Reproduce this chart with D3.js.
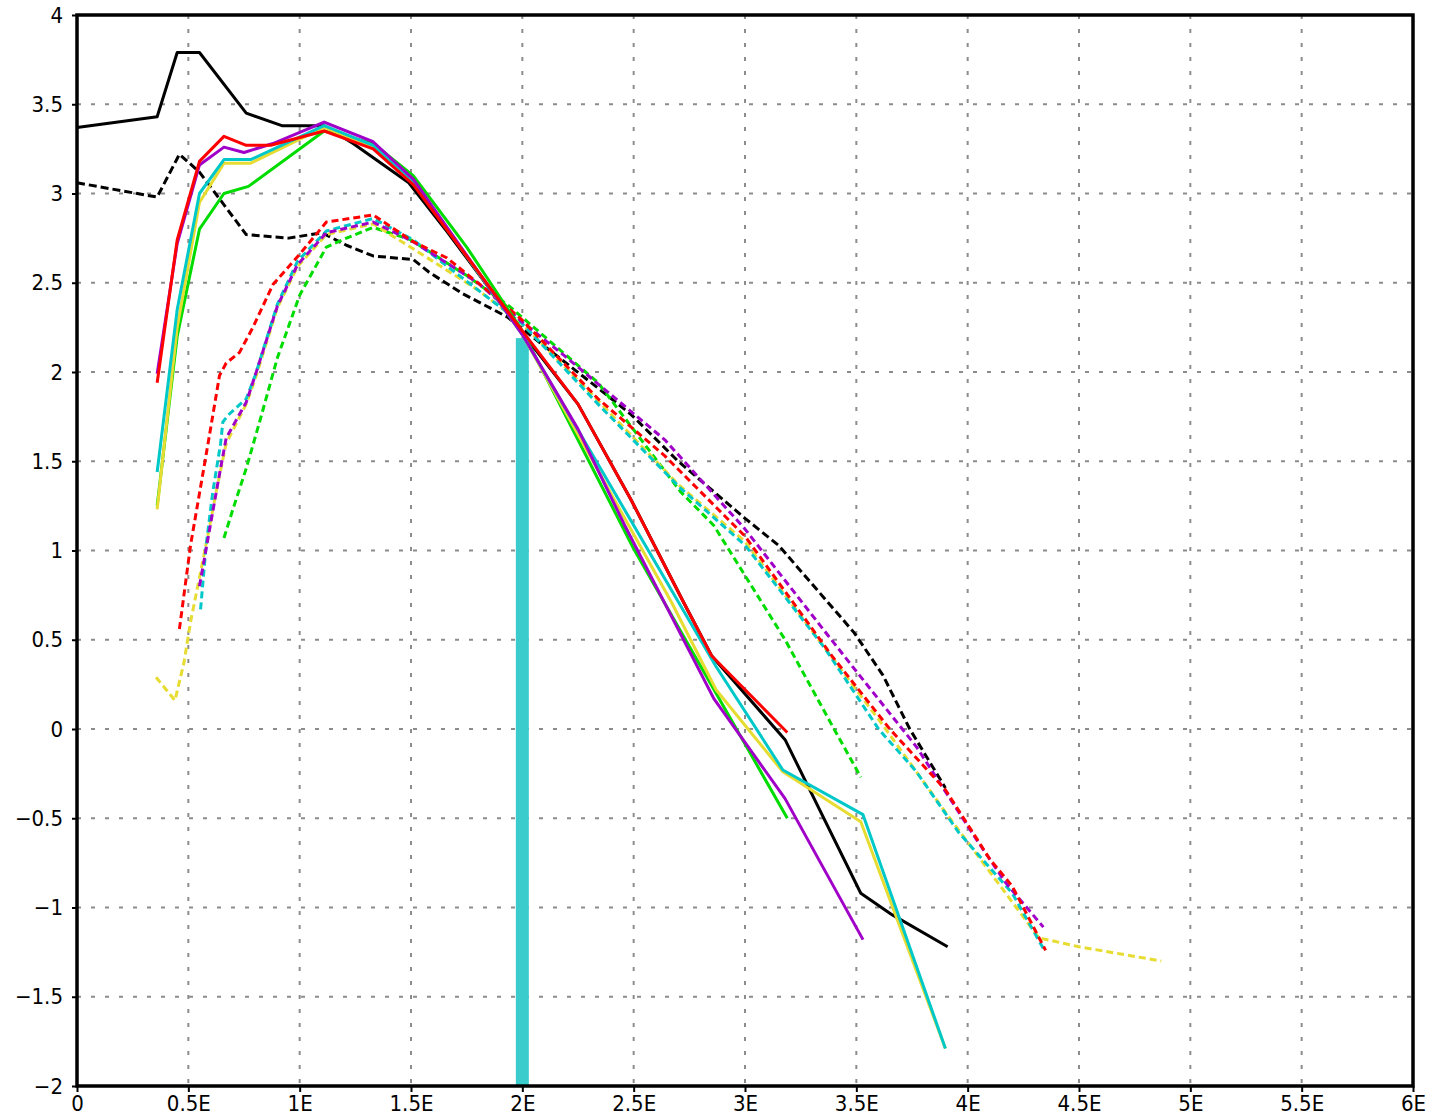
<!DOCTYPE html>
<html>
<head>
<meta charset="utf-8">
<script src="https://cdn.jsdelivr.net/npm/d3@7"></script>
<style>
  body { margin: 0; background: #fff; }
  svg { display: block; }
</style>
</head>
<body>
<svg id="chart" width="1432" height="1120"></svg>
<script>
// Axis ticks and their labels
const xTickValues = [0, 0.5, 1, 1.5, 2, 2.5, 3, 3.5, 4, 4.5, 5, 5.5, 6];
const xTickLabels = ["0", "0.5E", "1E", "1.5E", "2E", "2.5E", "3E", "3.5E", "4E", "4.5E", "5E", "5.5E", "6E"];
const yTickValues = [-2, -1.5, -1, -0.5, 0, 0.5, 1, 1.5, 2, 2.5, 3, 3.5, 4];
const yTickLabels = ["\u22122", "\u22121.5", "\u22121", "\u22120.5", "0", "0.5", "1", "1.5", "2", "2.5", "3", "3.5", "4"];

// Solid curves, [x, y]
const blackSolid = [[0,3.37],[0.36,3.43],[0.45,3.79],[0.55,3.79],[0.76,3.45],[0.92,3.38],[1.11,3.38],[1.24,3.28],[1.49,3.06],[1.66,2.79],[2.0,2.22],[2.25,1.82],[2.49,1.28],[2.72,0.72],[2.85,0.41],[3.18,-0.06],[3.52,-0.92],[3.66,-1.04],[3.91,-1.22]];
const redSolid = [[0.36,1.94],[0.45,2.74],[0.55,3.18],[0.66,3.32],[0.76,3.27],[0.87,3.27],[1.11,3.35],[1.33,3.25],[1.51,3.05],[2.0,2.23],[2.25,1.82],[2.49,1.28],[2.72,0.72],[2.85,0.41],[3.19,-0.02]];
const purpleSolid = [[0.36,1.99],[0.45,2.72],[0.55,3.16],[0.66,3.26],[0.75,3.23],[0.88,3.28],[1.11,3.40],[1.33,3.29],[1.51,3.08],[2.0,2.21],[2.25,1.68],[2.46,1.14],[2.86,0.17],[3.18,-0.39],[3.53,-1.18]];
const cyanSolid = [[0.36,1.44],[0.45,2.35],[0.55,3.0],[0.66,3.19],[0.78,3.19],[1.11,3.38],[1.33,3.27],[1.51,3.07],[2.0,2.21],[2.87,0.35],[3.17,-0.23],[3.53,-0.48],[3.90,-1.79]];
const yellowSolid = [[0.36,1.23],[0.45,2.25],[0.55,2.95],[0.66,3.17],[0.78,3.17],[1.11,3.37],[1.33,3.26],[1.51,3.07],[2.0,2.21],[2.67,0.71],[2.87,0.22],[3.17,-0.24],[3.52,-0.52],[3.90,-1.79]];
const greenSolid = [[0.36,1.25],[0.45,2.2],[0.55,2.80],[0.66,3.0],[0.77,3.04],[1.11,3.35],[1.33,3.28],[1.51,3.10],[1.75,2.70],[2.0,2.23],[2.5,1.01],[3.19,-0.50]];

// Dashed curves, [x, y]
const blackDashed = [[0,3.06],[0.36,2.98],[0.46,3.22],[0.55,3.12],[0.76,2.77],[0.95,2.75],[1.1,2.78],[1.21,2.71],[1.33,2.65],[1.51,2.63],[1.58,2.56],[1.73,2.44],[1.93,2.31],[2.34,1.91],[2.49,1.76],[2.70,1.50],[3.0,1.18],[3.15,1.03],[3.49,0.54],[3.62,0.30],[3.74,0.0],[3.9,-0.33]];
const redDashed = [[0.46,0.56],[0.51,1.03],[0.59,1.61],[0.64,1.98],[0.67,2.05],[0.73,2.11],[0.79,2.25],[0.88,2.49],[1.0,2.66],[1.12,2.84],[1.33,2.88],[1.51,2.73],[1.66,2.64],[1.88,2.42],[2.0,2.29],[2.34,1.85],[2.64,1.53],[3.0,1.08],[3.39,0.41],[3.65,0.0],[3.9,-0.34],[4.1,-0.73],[4.2,-0.88],[4.35,-1.24]];
const purpleDashed = [[0.55,0.80],[0.59,1.08],[0.63,1.36],[0.67,1.63],[0.76,1.83],[0.8,1.98],[0.9,2.37],[0.99,2.6],[1.12,2.78],[1.33,2.84],[1.51,2.73],[1.8,2.5],[2.0,2.28],[2.19,2.09],[2.64,1.62],[3.0,1.12],[3.3,0.64],[3.47,0.37],[3.77,-0.1],[4.04,-0.62],[4.17,-0.86],[4.34,-1.11]];
const cyanDashed = [[0.555,0.67],[0.58,1.03],[0.61,1.33],[0.645,1.6],[0.655,1.72],[0.68,1.76],[0.76,1.85],[0.8,1.98],[0.9,2.38],[0.99,2.62],[1.12,2.79],[1.33,2.86],[1.51,2.74],[1.8,2.46],[2.0,2.27],[2.34,1.82],[2.71,1.35],[3.0,1.03],[3.36,0.45],[3.6,0.0],[3.77,-0.24],[3.96,-0.58],[4.2,-0.92],[4.34,-1.23]];
const yellowDashed = [[0.355,0.29],[0.44,0.16],[0.48,0.37],[0.51,0.6],[0.555,0.88],[0.59,1.1],[0.63,1.36],[0.67,1.6],[0.76,1.82],[0.8,1.96],[0.9,2.36],[0.99,2.59],[1.12,2.77],[1.33,2.83],[1.51,2.69],[1.8,2.46],[2.0,2.27],[2.34,1.84],[2.7,1.37],[3.0,1.05],[3.62,0.02],[3.92,-0.5],[4.32,-1.17],[4.5,-1.22],[4.87,-1.30]];
const greenDashed = [[0.66,1.07],[0.70,1.23],[0.76,1.46],[0.82,1.72],[0.9,2.08],[1.0,2.43],[1.12,2.70],[1.21,2.75],[1.33,2.81],[1.5,2.74],[1.75,2.54],[1.94,2.37],[2.34,1.94],[2.71,1.33],[2.86,1.14],[2.93,1.0],[3.18,0.5],[3.40,0.0],[3.52,-0.27]];

// Vertical marker bar
const markerX = 2;
const markerTop = 2.19;

// Drawing order and appearance
const series = [
  { data: blackDashed,  color: "#000000", dash: "8,4" },
  { data: greenDashed,  color: "#00dc00", dash: "7,4" },
  { data: yellowDashed, color: "#e6dc32", dash: "7,4" },
  { data: cyanDashed,   color: "#00c8c8", dash: "7,4" },
  { data: purpleDashed, color: "#a000c8", dash: "7,4" },
  { data: redDashed,    color: "#ff0000", dash: "7,4" },
  { data: blackSolid,   color: "#000000", dash: null },
  { data: greenSolid,   color: "#00dc00", dash: null },
  { data: yellowSolid,  color: "#e6dc32", dash: null },
  { data: cyanSolid,    color: "#00c8c8", dash: null },
  { data: purpleSolid,  color: "#a000c8", dash: null },
  { data: redSolid,     color: "#ff0000", dash: null }
];

const plot = { left: 77, right: 1413, top: 15, bottom: 1086 };
const x = d3.scaleLinear().domain([0, 6]).range([plot.left, plot.right]);
const y = d3.scaleLinear().domain([-2, 4]).range([plot.bottom, plot.top]);

const svg = d3.select("#chart");
const font = "'Liberation Sans Narrow', 'DejaVu Sans Condensed', 'DejaVu Sans', sans-serif";

// Grid
const grid = svg.append("g").attr("stroke", "#8c8c8c").attr("stroke-width", 2)
  .attr("stroke-dasharray", "4,10");
grid.selectAll(".gx").data(xTickValues.slice(1, -1)).join("line")
  .attr("x1", d => x(d)).attr("x2", d => x(d))
  .attr("y1", plot.top).attr("y2", plot.bottom);
grid.selectAll(".gy").data(yTickValues.slice(1, -1)).join("line")
  .attr("y1", d => y(d)).attr("y2", d => y(d))
  .attr("x1", plot.left).attr("x2", plot.right);

// Marker bar at x = 2
svg.append("rect")
  .attr("x", x(markerX) - 6.5)
  .attr("width", 13)
  .attr("y", y(markerTop))
  .attr("height", y(-2) - y(markerTop))
  .attr("fill", "#3acccc");

// Curves
const line = d3.line().x(d => x(d[0])).y(d => y(d[1]));
svg.append("g").selectAll("path").data(series).join("path")
  .attr("d", s => line(s.data))
  .attr("fill", "none")
  .attr("stroke", s => s.color)
  .attr("stroke-width", 3)
  .attr("stroke-linejoin", "round")
  .attr("stroke-dasharray", s => s.dash);

// Axes
const xAxis = d3.axisBottom(x).tickValues(xTickValues)
  .tickFormat((d, i) => xTickLabels[i]).tickSize(6).tickPadding(3);
const yAxis = d3.axisLeft(y).tickValues(yTickValues)
  .tickFormat((d, i) => yTickLabels[i]).tickSize(5).tickPadding(9);

const gx = svg.append("g").attr("transform", `translate(0,${plot.bottom})`).call(xAxis);
const gy = svg.append("g").attr("transform", `translate(${plot.left},0)`).call(yAxis);
[gx, gy].forEach(g => {
  g.select(".domain").remove();
  g.selectAll(".tick line").attr("stroke", "#000").attr("stroke-width", 2);
  g.selectAll("text").attr("fill", "#000").style("font-family", font).style("font-size", "22px");
});

// Frame
svg.append("rect")
  .attr("x", plot.left).attr("y", plot.top)
  .attr("width", plot.right - plot.left).attr("height", plot.bottom - plot.top)
  .attr("fill", "none").attr("stroke", "#000").attr("stroke-width", 3.5);
</script>
</body>
</html>
